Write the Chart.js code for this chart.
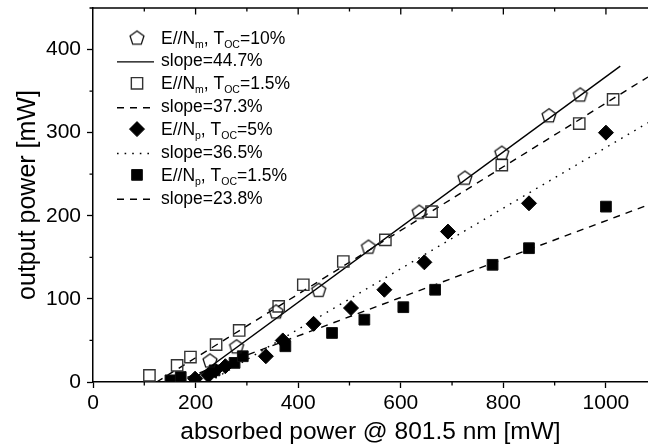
<!DOCTYPE html>
<html>
<head>
<meta charset="utf-8">
<script src="https://cdn.jsdelivr.net/npm/chart.js@4.4.1/dist/chart.umd.min.js"></script>
<style>
  html, body { margin: 0; padding: 0; background: #fff; }
  #chart { display: block; }
</style>
</head>
<body>
<canvas id="chart" width="648" height="447"></canvas>
<script>
// E//Nm, Toc = 10%
const pentX = [228, 280, 357, 440, 537, 636, 725, 797, 889, 950]
const pentY = [26, 43, 85, 111, 163, 205, 246, 276, 321, 346]
// E//Nm, Toc = 1.5%
const openSqX = [110, 164, 190, 240, 285, 362, 410, 488, 570, 660, 797, 948, 1014]
const openSqY = [8, 20, 30, 45, 62, 91, 117, 145, 171, 205, 261, 311, 340]
// E//Np, Toc = 5%
const diamX = [199, 225, 238, 258, 337, 370, 430, 503, 568, 646, 692, 850, 1000]
const diamY = [4, 8, 14, 19, 31, 50, 70, 89, 111, 144, 181, 215, 300]
// E//Np, Toc = 1.5%
const fillSqX = [151, 171, 237, 276, 292, 375, 466, 529, 605, 667, 779, 850, 1000]
const fillSqY = [2, 6, 14, 23, 31, 43, 59, 75, 90, 111, 141, 161, 211]

// linear fits (start / end)
const fitX = [[188, 1028], [124, 1082], [226, 1082], [160, 1082]]
const fitY = [[0, 380], [0, 367], [0, 312], [0, 213]]
const slopes = ["44.7", "37.3", "36.5", "23.8"]

const legendLabels = [
  [["E//N"], ["m", 1], [", T"], ["OC", 1], ["=10%"]],
  [["E//N"], ["m", 1], [", T"], ["OC", 1], ["=1.5%"]],
  [["E//N"], ["p", 1], [", T"], ["OC", 1], ["=5%"]],
  [["E//N"], ["p", 1], [", T"], ["OC", 1], ["=1.5%"]]
]

const FONT = '"Liberation Sans", Arial, Helvetica, sans-serif'
Chart.defaults.font.family = FONT
Chart.defaults.color = "#000"

function makePentagon(r, lw, color) {
  const size = Math.ceil(2 * r + 2 * lw + 2)
  const c = document.createElement("canvas")
  c.width = c.height = size
  const g = c.getContext("2d")
  g.strokeStyle = color
  g.lineWidth = lw
  g.beginPath()
  for (let k = 0; k < 5; k++) {
    const a = -Math.PI / 2 + k * 2 * Math.PI / 5
    const px = size / 2 + r * Math.cos(a)
    const py = size / 2 + r * Math.sin(a) + r * 0.1
    if (k === 0) g.moveTo(px, py)
    else g.lineTo(px, py)
  }
  g.closePath()
  g.stroke()
  return c
}
const pentagon = makePentagon(7.3, 1.3, "#111")

const marks = [
  {pointStyle: pentagon, radius: 7.5, border: "#111", bg: "rgba(0,0,0,0)", bw: 1.3},
  {pointStyle: "rect", radius: 8, border: "#333", bg: "rgba(0,0,0,0)", bw: 1.4},
  {pointStyle: "rectRot", radius: 7.5, border: "#000", bg: "#000", bw: 1},
  {pointStyle: "rect", radius: 7.6, border: "#111", bg: "#000", bw: 1}
]
const dashes = [[], [7, 6], [1.6, 6], [7, 6]]

function pts(xs, ys) {
  return xs.map((x, i) => ({x: x, y: ys[i]}))
}

const seriesX = [pentX, openSqX, diamX, fillSqX]
const seriesY = [pentY, openSqY, diamY, fillSqY]

const datasets = []
seriesX.forEach((xs, i) => {
  const m = marks[i]
  datasets.push({
    type: "scatter",
    data: pts(xs, seriesY[i]),
    showLine: false,
    pointStyle: m.pointStyle,
    pointRadius: m.radius,
    pointBorderColor: m.border,
    pointBackgroundColor: m.bg,
    pointBorderWidth: m.bw,
    order: 1
  })
})
fitX.forEach((xs, i) => {
  datasets.push({
    type: "scatter",
    data: pts(xs, fitY[i]),
    showLine: true,
    pointRadius: 0,
    borderColor: "#000",
    borderWidth: 1.4,
    borderDash: dashes[i],
    fill: false,
    order: 2
  })
})

function fixSize(prop, size) {
  return s => {
    s[prop] = size
    s.paddingLeft = s.paddingRight = s.paddingTop = s.paddingBottom = 0
  }
}

// minor ticks plus the top frame line with its inward ticks
const frameTicks = {
  id: "frameTicks",
  afterDraw(chart) {
    const {ctx, chartArea: a, scales} = chart
    ctx.save()
    ctx.strokeStyle = "#000"
    ctx.lineWidth = 1.5
    ctx.beginPath()
    ctx.moveTo(a.left, a.top)
    ctx.lineTo(a.right, a.top)
    ctx.stroke()
    ctx.lineWidth = 1.3
    ctx.beginPath()
    for (let v = 100; v <= scales.x.max; v += 200) {
      const px = scales.x.getPixelForValue(v)
      ctx.moveTo(px, a.bottom)
      ctx.lineTo(px, a.bottom + 3.5)
    }
    for (let v = 50; v <= scales.y.max; v += 100) {
      const py = scales.y.getPixelForValue(v)
      ctx.moveTo(a.left, py)
      ctx.lineTo(a.left - 3.5, py)
    }
    for (let v = 100; v <= scales.x.max; v += 100) {
      const px = scales.x.getPixelForValue(v)
      ctx.moveTo(px, a.top)
      ctx.lineTo(px, a.top + (v % 200 ? 3.5 : 6.5))
    }
    ctx.stroke()
    ctx.restore()
  }
}

const legendBox = {
  id: "legendBox",
  afterDraw(chart) {
    const ctx = chart.ctx
    const symX = 137, lineL = 117, lineR = 154, textX = 161
    const base0 = 43.5, gap = 22.9
    ctx.save()
    ctx.textBaseline = "alphabetic"
    for (let i = 0; i < 4; i++) {
      // marker row
      let b = base0 + gap * 2 * i
      const m = marks[i]
      ctx.fillStyle = m.bg
      ctx.strokeStyle = m.border
      ctx.lineWidth = m.bw
      Chart.helpers.drawPoint(ctx, {pointStyle: m.pointStyle, radius: m.radius, rotation: 0, borderWidth: m.bw}, symX, b - 6)
      ctx.fillStyle = "#000"
      let x = textX
      legendLabels[i].forEach(p => {
        const sub = p[1] === 1
        ctx.font = (sub ? "10.5px " : "17.5px ") + FONT
        ctx.fillText(p[0], x, sub ? b + 4 : b)
        x += ctx.measureText(p[0]).width
      })
      // fit row
      b += gap
      ctx.strokeStyle = "#000"
      ctx.lineWidth = 1.4
      ctx.setLineDash(dashes[i])
      ctx.beginPath()
      ctx.moveTo(lineL, b - 4.5)
      ctx.lineTo(lineR, b - 4.5)
      ctx.stroke()
      ctx.setLineDash([])
      ctx.font = "17.5px " + FONT
      ctx.fillText("slope=" + slopes[i] + "%", textX, b)
    }
    ctx.restore()
  }
}

const chart = new Chart("chart", {
  type: "scatter",
  data: {datasets: datasets},
  options: {
    responsive: false,
    animation: false,
    devicePixelRatio: 1,
    layout: {padding: {top: 8, left: 0, right: 0, bottom: 0}, autoPadding: false},
    plugins: {
      legend: {display: false},
      tooltip: {enabled: false}
    },
    scales: {
      x: {
        type: "linear",
        position: "bottom",
        min: 0,
        max: 1082,
        afterFit: fixSize("height", 65),
        ticks: {stepSize: 200, includeBounds: false, autoSkip: false, maxRotation: 0, font: {size: 21}, color: "#000", padding: 3, callback: v => String(v)},
        grid: {drawOnChartArea: false, tickLength: 6, color: "#000", tickWidth: 1.3},
        border: {color: "#000", width: 1.5},
        title: {display: true, text: "absorbed power @ 801.5 nm [mW]", font: {size: 24.5}, color: "#000", padding: 0}
      },
      y: {
        min: 0,
        max: 450,
        afterFit: fixSize("width", 93),
        ticks: {stepSize: 100, includeBounds: false, autoSkip: false, font: {size: 21}, color: "#000", padding: 6, callback: v => String(v)},
        grid: {drawOnChartArea: false, tickLength: 6, color: "#000", tickWidth: 1.3},
        border: {color: "#000", width: 1.5},
        title: {display: true, text: "output power [mW]", font: {size: 25}, color: "#000", padding: {top: 13, bottom: 0}}
      }
    }
  },
  plugins: [frameTicks, legendBox]
})
</script>
</body>
</html>
